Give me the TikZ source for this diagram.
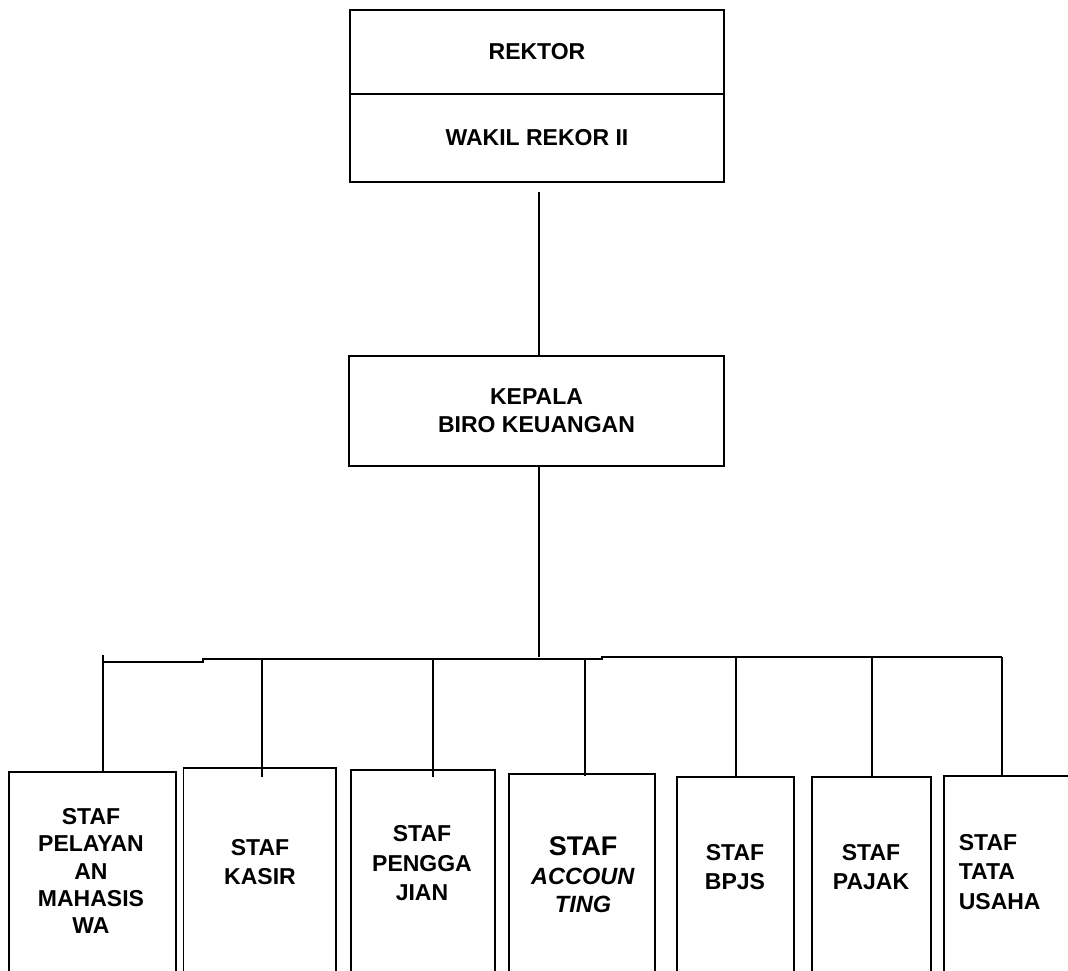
\documentclass[tikz,border=0pt]{standalone}
\usepackage{fontspec}
\setmainfont{Liberation Sans}
\usetikzlibrary{positioning}

\begin{document}
\begin{tikzpicture}[
  x=1pt, y=-1pt,
  line width=1.6pt,
  orgbox/.style={draw, rectangle, inner sep=0pt, outer sep=0pt, align=center,
    font=\fontsize{23}{28}\selectfont\bfseries},
  unitbox/.style={draw, rectangle, inner sep=0pt, outer sep=0pt, anchor=north},
  unittext/.style={align=center, inner sep=0pt, font=\fontsize{23}{29.5}\selectfont\bfseries},
]
\useasboundingbox (0,0) rectangle (1068,970);
\clip (0,0) rectangle (1068,970);

\node[orgbox, minimum width=374, minimum height=84] (rektor) at (537,52) {REKTOR};
\node[orgbox, minimum width=374, minimum height=88, below=0pt of rektor] (wakil) {WAKIL REKOR II};
\node[orgbox, minimum width=375, minimum height=110] (kepala) at (536.5,411) {KEPALA\\BIRO KEUANGAN};

% staff boxes run past the bottom edge
\foreach \nm/\xl/\xr/\yt in {pelayanan/9/176/772, kasir/183.5/336/768, pengga/351/495/770,
  accounting/509/655/774, bpjs/677/794/777, pajak/812/931/777, tata/944/1090/776}
  \node[unitbox, minimum width={\xr-\xl}, minimum height={1000-\yt}] (\nm) at ({(\xl+\xr)/2},\yt) {};

\node[unittext, font=\fontsize{23}{27.3}\selectfont\bfseries] (pelayanan-t) at (91,871) {STAF\\PELAYAN\\AN\\MAHASIS\\WA};
\node[unittext] (kasir-t) at (260,862) {STAF\\KASIR};
\node[unittext] (pengga-t) at (422,863.5) {STAF\\PENGGA\\JIAN};
\node[unittext, font=\fontsize{23.5}{28.5}\selectfont\bfseries] (accounting-t) at (583,875)
  {{\fontsize{27}{28.5}\selectfont STAF}\\\textit{ACCOUN}\\\textit{TING}};
\node[unittext] (bpjs-t) at (735,867) {STAF\\BPJS};
\node[unittext] (pajak-t) at (871,867) {STAF\\PAJAK};
\node[unittext, align=left, anchor=west] (tata-t) at (958,872) {STAF\\TATA\\USAHA};

% trunk and bus
\coordinate (hub) at (539,657);
\draw ([yshift=-10pt]wakil.south -| hub) -- (kepala.north -| hub);
\draw (kepala.south -| hub) -- (hub);
\draw (103,662) -- (203,662) -- (203,659) -- (602,659) -- (602,657) -- (1002,657);

\foreach \nm/\x/\y/\e in {pelayanan/103/655/0, kasir/262/659/9, pengga/433/659/7,
  accounting/585/659/2, bpjs/736/657/0, pajak/872/657/0, tata/1002/657/0}
{
  \coordinate (drop-\nm) at (\x,\y);
  \draw (drop-\nm) -- (drop-\nm |- \nm.north) -- ++(0,\e);
}
\end{tikzpicture}
\end{document}
